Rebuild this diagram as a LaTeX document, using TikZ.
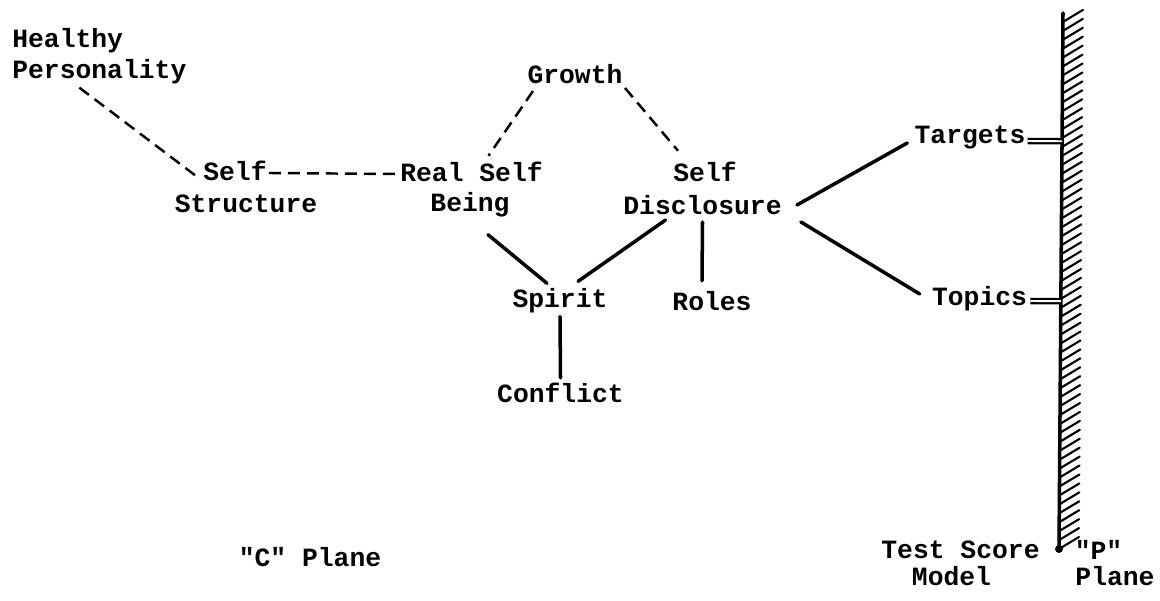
\documentclass[tikz,border=0pt]{standalone}
\usepackage{fontspec}
\setmonofont{Liberation Mono}
\usetikzlibrary{calc}
\tikzset{
  lbl/.style={font=\ttfamily\bfseries\fontsize{15}{18}\selectfont,inner sep=0pt},
  dashlink/.style={line width=1.4pt,dash pattern=on 0.24cm off 0.14cm},
  link/.style={line width=2pt,line cap=round},
  wall/.style={line width=2pt,line cap=round},
  hatch/.style={line width=1.2pt,line cap=round},
  plug/.style={double,double distance=1.1pt,line width=1.3pt},
}

\begin{document}
\begin{tikzpicture}
  \useasboundingbox (0,0) rectangle (23.2,-12.02);
  % "C" plane
  \node[lbl,anchor=west] (healthy) at (0.24,-0.82) {Healthy};
  \node[lbl,anchor=west] (person) at (0.24,-1.44) {Personality};
  \node[lbl] (self) at (4.70,-3.42) {Self};
  \node[lbl] (struct) at (4.92,-4.08) {Structure};
  \node[lbl] (real) at (9.43,-3.44) {Real Self};
  \node[lbl] (being) at (9.40,-4.10) {Being};
  \node[lbl] (growth) at (11.50,-1.48) {Growth};
  \node[lbl] (sdself) at (14.10,-3.44) {Self};
  \node[lbl] (discl) at (14.05,-4.10) {Disclosure};
  \node[lbl] (spirit) at (11.20,-6.02) {Spirit};
  \node[lbl] (roles) at (14.24,-6.02) {Roles};
  \node[lbl] (conflict) at (11.21,-7.86) {Conflict};
  \node[lbl] (targets) at (19.40,-2.76) {Targets};
  \node[lbl] (topics) at (19.59,-5.98) {Topics};
  % captions
  \node[lbl] (cplane) at (6.20,-11.14) {"C" Plane};
  \node[lbl] (test) at (19.21,-11.00) {Test Score};
  \node[lbl] (model) at (19.03,-11.52) {Model};
  \node[lbl] (pq) at (21.97,-11.00) {"P"};
  \node[lbl] (plane) at (22.30,-11.52) {Plane};

  % dashed links
  \draw[dashlink] ($(person.south)+(-0.4,-0.06)$) -- ($(self.west)+(-0.14,-0.1)$);
  \draw[dashlink] ($(self.east)+(0.04,-0.04)$) -- ($(real.west)+(-0.06,-0.04)$);
  \draw[dashlink] ($(growth.south)+(-0.84,-0.14)$) -- ($(real.north)+(0.34,0.12)$);
  \draw[dashlink] ($(growth.south)+(1.0,-0.08)$) -- ($(sdself.north)+(-0.54,0.22)$);

  % solid links
  \draw[link] ($(being.south)+(0.36,-0.34)$) -- ($(spirit.north)+(-0.26,0.1)$);
  \draw[link] ($(discl.south)+(-0.74,-0.1)$) -- ($(spirit.north)+(0.36,0.14)$);
  \draw[link] ($(discl.south)+(0,-0.14)$) -- ($(roles.north)+(-0.2,0.2)$);
  \draw[link] ($(spirit.south)+(0,-0.06)$) -- ($(conflict.north)+(0,0.1)$);
  \draw[link] ($(discl.east)+(0.3,0)$) -- ($(targets.west)+(-0.14,-0.1)$);
  \draw[link] ($(discl.east)+(0.38,-0.34)$) -- ($(topics.west)+(-0.24,0.1)$);

  % the "P" plane wall
  \coordinate (wtop) at (21.26,-0.26);
  \coordinate (wbot) at (21.18,-10.98);
  \draw[wall] (wtop) -- (wbot);
  \fill (wbot) circle (0.08);
  \foreach \i [evaluate=\i as \t using \i/60] in {1,...,60}
    \draw[hatch] ($(wtop)!\t!(wbot)$) -- ++(0.4,0.24);
  \draw[plug] ($(targets.east)+(0.04,-0.06)$) -- ($(wtop)!($(targets.east)+(0,-0.06)$)!(wbot)$);
  \draw[plug] ($(topics.east)+(0.06,-0.04)$) -- ($(wtop)!($(topics.east)+(0,-0.04)$)!(wbot)$);
\end{tikzpicture}
\end{document}
